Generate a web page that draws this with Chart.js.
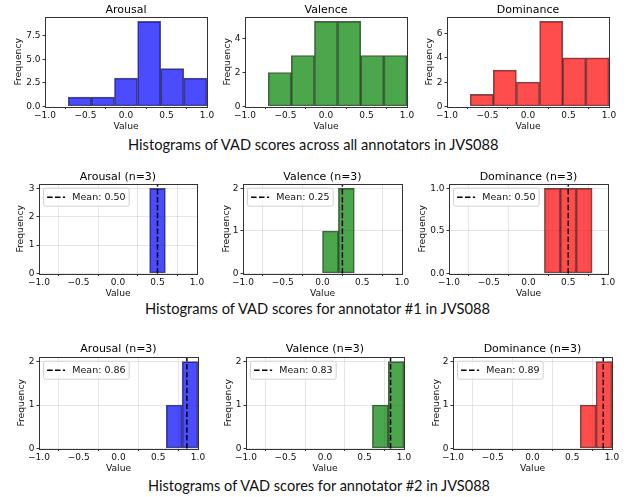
<!DOCTYPE html>
<html>
<head>
<meta charset="utf-8">
<script src="https://cdn.jsdelivr.net/npm/chart.js@4.4.0/dist/chart.umd.min.js"></script>
<style>
  body { margin: 0; background: #fff; }
  #fig { position: relative; width: 627px; height: 497px; overflow: hidden; background: #fff; }
  #fig canvas { position: absolute; }
  .cap { position: absolute; white-space: nowrap; font-family: Lato, sans-serif; color: #111; line-height: 1; }
</style>
</head>
<body>
<div id="fig"></div>
<script>
const xTicks = [-1, -0.5, 0, 0.5, 1]
const titles = ['Arousal', 'Valence', 'Dominance']

// all annotators, 7 bins over [-1, 1]
const allCenters = [-0.857, -0.571, -0.286, 0, 0.286, 0.571, 0.857]
const allArousal = [0, 1, 1, 3, 9, 4, 3]
const allValence = [0, 2, 3, 5, 5, 3, 3]
const allDominance = [0, 1, 3, 2, 7, 4, 4]
const allYTicks = [[0, 2.5, 5, 7.5], [0, 2, 4], [0, 2, 4, 6]]

// single annotators, 0.2 wide bins
const annCenters = [-0.9, -0.7, -0.5, -0.3, -0.1, 0.1, 0.3, 0.5, 0.7, 0.9]
const ann1Arousal = [0, 0, 0, 0, 0, 0, 0, 3, 0, 0]
const ann1Valence = [0, 0, 0, 0, 0, 1, 2, 0, 0, 0]
const ann1Dominance = [0, 0, 0, 0, 0, 0, 1, 1, 1, 0]
const ann1Means = [0.50, 0.25, 0.50]
const ann1YTicks = [[0, 1, 2, 3], [0, 1, 2], [0, 0.5, 1]]

const ann2Arousal = [0, 0, 0, 0, 0, 0, 0, 0, 1, 2]
const ann2Valence = [0, 0, 0, 0, 0, 0, 0, 0, 1, 2]
const ann2Dominance = [0, 0, 0, 0, 0, 0, 0, 0, 1, 2]
const ann2Means = [0.86, 0.83, 0.89]
const ann2YTicks = [[0, 1, 2], [0, 1, 2], [0, 1, 2]]

const captions = [
  'Histograms of VAD scores across all annotators in JVS088',
  'Histograms of VAD scores for annotator #1 in JVS088',
  'Histograms of VAD scores for annotator #2 in JVS088'
]

const fills = ['rgba(0,0,255,0.7)', 'rgba(0,128,0,0.7)', 'rgba(255,0,0,0.7)']
const FONT = '"DejaVu Sans", sans-serif'

// plot boxes [left, top, right, bottom] and distance of the y label centre from the axis
const rows = [
  { centers: allCenters, counts: [allArousal, allValence, allDominance], yticks: allYTicks, grid: false,
    boxes: [[45, 17, 207, 106], [245, 17, 407, 106], [447, 17, 609, 106]], lab: [26, 17, 17], tpad: 0 },
  { centers: annCenters, counts: [ann1Arousal, ann1Valence, ann1Dominance], yticks: ann1YTicks, grid: true,
    means: ann1Means, boxes: [[39, 184, 197, 273], [243, 184, 402, 273], [449, 184, 608, 273]], lab: [18, 16, 26], tpad: 0 },
  { centers: annCenters, counts: [ann2Arousal, ann2Valence, ann2Dominance], yticks: ann2YTicks, grid: true,
    means: ann2Means, boxes: [[39, 357, 198, 448], [246, 357, 404, 448], [453, 357, 612, 448]], lab: [17, 17, 16], tpad: 1 }
]
const capBoxes = [[128, 500, 145], [145, 492, 309.5], [148, 492, 486]]

const fmt = (v, d) => v.toFixed(d).replace('-', '\u2212')

// frame, mean line and legend drawn on top of the bars
const framePlugin = {
  id: 'frame',
  afterDatasetsDraw(chart, args, opts) {
    const { ctx, chartArea: a } = chart
    const x = chart.scales.x
    ctx.save()
    if (opts.mean != null) {
      const px = x.getPixelForValue(opts.mean)
      ctx.strokeStyle = '#000'
      ctx.lineWidth = 1.5
      ctx.setLineDash([5.5, 2.4])
      ctx.beginPath()
      ctx.moveTo(px, a.bottom)
      ctx.lineTo(px, a.top)
      ctx.stroke()
      ctx.setLineDash([])
    }
    ctx.strokeStyle = '#333'
    ctx.lineWidth = 1
    ctx.strokeRect(Math.round(a.left) + 0.5, Math.round(a.top) + 0.5,
      Math.round(a.right) - Math.round(a.left), Math.round(a.bottom) - Math.round(a.top))
    if (opts.mean != null) {
      const label = 'Mean: ' + opts.mean.toFixed(2)
      const fs = 9.5
      ctx.font = fs + 'px ' + FONT
      const tw = ctx.measureText(label).width
      const bx = a.left + 4.5, by = a.top + 4
      const bw = 3.6 + 18 + 7.2 + tw + 3.6, bh = fs + 8.5
      ctx.beginPath()
      ctx.roundRect(bx, by, bw, bh, 2)
      ctx.fillStyle = 'rgba(255,255,255,0.8)'
      ctx.fill()
      ctx.strokeStyle = '#d0d0d0'
      ctx.stroke()
      const cy = by + bh / 2
      ctx.strokeStyle = '#000'
      ctx.lineWidth = 1.5
      ctx.setLineDash([5.5, 2.4])
      ctx.beginPath()
      ctx.moveTo(bx + 3.6, cy)
      ctx.lineTo(bx + 21.6, cy)
      ctx.stroke()
      ctx.setLineDash([])
      ctx.fillStyle = '#111'
      ctx.textBaseline = 'middle'
      ctx.fillText(label, bx + 28.8, cy + 0.5)
    }
    ctx.restore()
  }
}

const fig = document.getElementById('fig')

rows.forEach((row, r) => {
  row.boxes.forEach(([l, t, rt, b], i) => {
    const counts = row.counts[i]
    const yticks = row.yticks[i]
    const dec = yticks.some(v => v % 1 !== 0) ? 1 : 0
    const yMax = Math.max(...counts) * 1.05
    const yw = Math.round(row.lab[i] + 5.5)
    const titleSize = 11
    const titleH = titleSize * 1.2 + row.tpad
    const xh = 25.5
    const padR = 14
    const canvas = document.createElement('canvas')
    canvas.width = yw + (rt - l) + padR
    canvas.height = Math.round(titleH + (b - t) + xh)
    canvas.style.left = (l - yw) + 'px'
    canvas.style.top = Math.round(t - titleH) + 'px'
    fig.appendChild(canvas)

    const gridOpts = {
      drawOnChartArea: row.grid,
      color: 'rgba(176,176,176,0.3)',
      lineWidth: 1,
      tickColor: '#333',
      tickLength: 2.5
    }
    const tickFont = { family: FONT, size: 9 }
    const labFont = { family: FONT, size: 9.2 }

    new Chart(canvas.getContext('2d'), {
      type: 'bar',
      data: {
        datasets: [{
          data: row.centers.map((c, k) => ({ x: c, y: counts[k] })),
          backgroundColor: fills[i],
          borderColor: 'rgba(0,0,0,0.65)',
          borderWidth: 1,
          borderSkipped: false,
          barPercentage: 1,
          categoryPercentage: 1
        }]
      },
      options: {
        responsive: false,
        animation: false,
        devicePixelRatio: 1,
        layout: { padding: { right: padR } },
        scales: {
          x: {
            type: 'linear', min: -1, max: 1, offset: false,
            afterBuildTicks: s => { s.ticks = xTicks.map(v => ({ value: v })) },
            ticks: { font: tickFont, color: '#111', padding: 1, maxRotation: 0, autoSkip: false,
              callback: v => fmt(v, 1) },
            grid: gridOpts,
            border: { display: false },
            title: { display: true, text: 'Value', font: labFont, color: '#111', padding: 0 },
            afterFit: s => { s.height = xh }
          },
          y: {
            min: 0, max: yMax,
            afterBuildTicks: s => { s.ticks = yticks.map(v => ({ value: v })) },
            ticks: { font: tickFont, color: '#111', padding: 2, autoSkip: false,
              callback: v => fmt(v, dec) },
            grid: gridOpts,
            border: { display: false },
            title: { display: true, text: 'Frequency', font: labFont, color: '#111', padding: 0 },
            afterFit: s => { s.width = yw }
          }
        },
        plugins: {
          legend: { display: false },
          tooltip: { enabled: false },
          title: {
            display: true,
            fullSize: false,
            text: row.means ? titles[i] + ' (n=3)' : titles[i],
            font: { family: FONT, size: titleSize, weight: 'normal', lineHeight: 1.2 },
            color: '#000',
            padding: { top: 0, bottom: row.tpad }
          },
          frame: { mean: row.means ? row.means[i] : null }
        }
      },
      plugins: [framePlugin]
    })
  })
})

// captions: fit the font so each line spans the width it has in the figure
const mctx = document.createElement('canvas').getContext('2d')
captions.forEach((text, k) => {
  const [x0, x1, cy] = capBoxes[k]
  mctx.font = '100px Lato'
  const size = 100 * (x1 - x0) / mctx.measureText(text).width
  const div = document.createElement('div')
  div.className = 'cap'
  div.textContent = text
  div.style.fontSize = size.toFixed(2) + 'px'
  div.style.left = x0 + 'px'
  div.style.top = (cy - size * 0.5) + 'px'
  fig.appendChild(div)
})
</script>
</body>
</html>
